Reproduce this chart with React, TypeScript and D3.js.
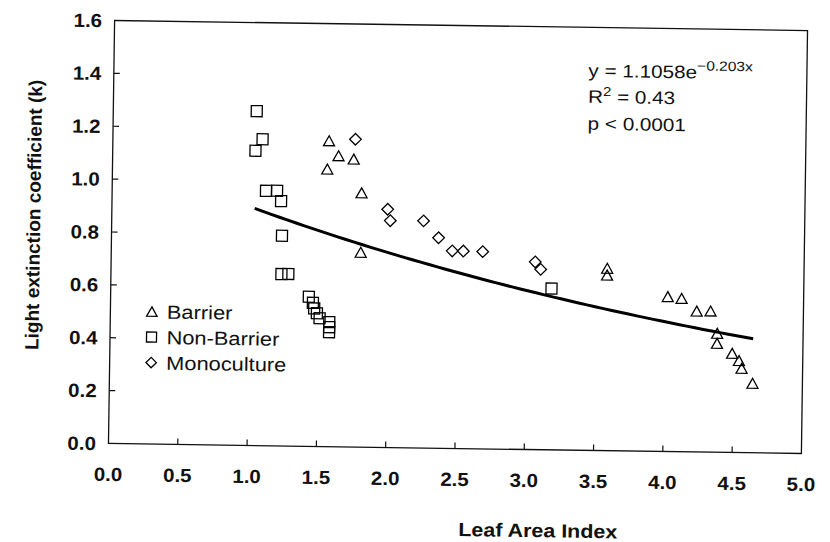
import React from "react";
import * as d3 from "d3";

// Leaf Area Index (x) and light extinction coefficient k (y) for each planting type
const barrierLAI = [1.56, 1.63, 1.74, 1.55, 1.8, 1.8, 3.58, 3.58, 4.02, 4.12, 4.23, 4.33, 4.38, 4.38, 4.49, 4.54, 4.56, 4.64];
const barrierK = [1.157, 1.101, 1.089, 1.05, 0.962, 0.737, 0.69, 0.664, 0.586, 0.58, 0.533, 0.534, 0.45, 0.412, 0.375, 0.348, 0.319, 0.263];

const nonBarrierLAI = [1.035, 1.08, 1.03, 1.11, 1.19, 1.22, 1.23, 1.23, 1.28, 1.43, 1.46, 1.47, 1.49, 1.51, 1.58, 1.58, 1.58, 3.18];
const nonBarrierK = [1.265, 1.159, 1.115, 0.964, 0.965, 0.926, 0.795, 0.65, 0.651, 0.566, 0.543, 0.522, 0.504, 0.485, 0.471, 0.452, 0.433, 0.61];

const monoLAI = [1.75, 1.99, 2.01, 2.25, 2.36, 2.46, 2.54, 2.68, 3.06, 3.1];
const monoK = [1.164, 0.901, 0.858, 0.859, 0.796, 0.747, 0.747, 0.746, 0.71, 0.682];

// Exponential fit k = a * exp(b * LAI), drawn over the observed LAI range
const fitA = 1.1058;
const fitB = -0.203;
const fitRange = [1.03, 4.64];

const xTicks = [0, 0.5, 1, 1.5, 2, 2.5, 3, 3.5, 4, 4.5, 5];
const yTicks = [0, 0.2, 0.4, 0.6, 0.8, 1.0, 1.2, 1.4, 1.6];

const legendLabels = ["Barrier", "Non-Barrier", "Monoculture"];

const W = 830;
const H = 542;
const FRAME = { left: 111.5, right: 804.5, top: 25.5, bottom: 448.5 };
const FONT = "'Liberation Sans', Arial, Helvetica, sans-serif";

const x = d3.scaleLinear().domain([0, 5]).range([FRAME.left, FRAME.right]);
const y = d3.scaleLinear().domain([0, 1.6]).range([FRAME.bottom, FRAME.top]);

// Horizontally widened text (the figure's type runs wide)
function WText({
  x: tx,
  y: ty,
  sx = 1.13,
  children,
  ...rest
}: {
  x: number;
  y: number;
  sx?: number;
  children: React.ReactNode;
  [k: string]: any;
}) {
  return (
    <text transform={`translate(${tx} ${ty}) scale(${sx} 1)`} fill="#111" {...rest}>
      {children}
    </text>
  );
}

function Triangle({ cx, cy, s = 11 }: { cx: number; cy: number; s?: number }) {
  const h = s * 0.9;
  const d = `M${cx},${cy - h / 2}L${cx + s / 2},${cy + h / 2}L${cx - s / 2},${cy + h / 2}Z`;
  return <path d={d} fill="none" stroke="#000" strokeWidth={1.3} />;
}

function Square({ cx, cy, s = 11 }: { cx: number; cy: number; s?: number }) {
  return <rect x={cx - s / 2} y={cy - s / 2} width={s} height={s} fill="none" stroke="#000" strokeWidth={1.3} />;
}

function Diamond({ cx, cy, r = 5.8 }: { cx: number; cy: number; r?: number }) {
  const d = `M${cx},${cy - r}L${cx + r},${cy}L${cx},${cy + r}L${cx - r},${cy}Z`;
  return <path d={d} fill="none" stroke="#000" strokeWidth={1.3} />;
}

export default function App() {
  const fitPts = d3.range(0, 61).map((i) => {
    const lai = fitRange[0] + ((fitRange[1] - fitRange[0]) * i) / 60;
    return [lai, fitA * Math.exp(fitB * lai)] as [number, number];
  });
  const fitPath = d3
    .line<[number, number]>()
    .x((d) => x(d[0]))
    .y((d) => y(d[1]))(fitPts) as string;

  const legendY = [316, 341.5, 367];
  const legendMarkX = 153;
  const legendTextX = 168;

  return (
    <svg
      width={W}
      height={H}
      viewBox={`0 0 ${W} ${H}`}
      style={{ position: "absolute", left: 0, top: 0, background: "#fff" }}
      fontFamily={FONT}
    >
      <rect x={0} y={0} width={W} height={H} fill="#fff" />
      <g transform="rotate(0.83 458 237)">
        {/* plot frame */}
        <rect
          x={FRAME.left}
          y={FRAME.top}
          width={FRAME.right - FRAME.left}
          height={FRAME.bottom - FRAME.top}
          fill="none"
          stroke="#111"
          strokeWidth={1.3}
        />

        {/* x ticks and labels */}
        {xTicks.map((t) => (
          <g key={`x${t}`}>
            {t > 0 && t < 5 && (
              <line x1={x(t)} x2={x(t)} y1={FRAME.bottom} y2={FRAME.bottom - 6} stroke="#111" strokeWidth={1.2} />
            )}
            <WText x={x(t)} y={486} sx={1.08} textAnchor="middle" fontSize={19} fontWeight="bold">
              {t.toFixed(1)}
            </WText>
          </g>
        ))}

        {/* y ticks and labels */}
        {yTicks.map((t) => (
          <g key={`y${t}`}>
            {t > 0 && t < 1.6 && (
              <line x1={FRAME.left} x2={FRAME.left + 6} y1={y(t)} y2={y(t)} stroke="#111" strokeWidth={1.2} />
            )}
            <WText x={99} y={y(t)} sx={1.08} dy="0.36em" textAnchor="end" fontSize={19} fontWeight="bold">
              {t.toFixed(1)}
            </WText>
          </g>
        ))}

        {/* axis titles */}
        <WText x={542} y={536} sx={1.13} textAnchor="middle" fontSize={19} fontWeight="bold">
          Leaf Area Index
        </WText>
        <text
          transform="translate(40 221) rotate(-90)"
          textAnchor="middle"
          fontSize={19}
          fontWeight="bold"
          fill="#111"
        >
          Light extinction coefficient (k)
        </text>

        {/* fitted curve */}
        <path d={fitPath} fill="none" stroke="#000" strokeWidth={3} strokeLinejoin="round" />

        {/* data points */}
        {barrierLAI.map((v, i) => (
          <Triangle key={`b${i}`} cx={x(v)} cy={y(barrierK[i])} />
        ))}
        {nonBarrierLAI.map((v, i) => (
          <Square key={`n${i}`} cx={x(v)} cy={y(nonBarrierK[i])} />
        ))}
        {monoLAI.map((v, i) => (
          <Diamond key={`m${i}`} cx={x(v)} cy={y(monoK[i])} />
        ))}

        {/* legend */}
        <Triangle cx={legendMarkX} cy={legendY[0]} s={10.5} />
        <Square cx={legendMarkX} cy={legendY[1]} s={10} />
        <Diamond cx={legendMarkX} cy={legendY[2]} r={5.2} />
        {legendLabels.map((l, i) => (
          <WText key={l} x={legendTextX} y={legendY[i]} sx={1.15} dy="0.36em" fontSize={19}>
            {l}
          </WText>
        ))}

        {/* fit statistics */}
        <WText x={586} y={75} sx={1.15} fontSize={18}>
          y = 1.1058e
          <tspan dy={-8} fontSize={13.5}>
            −0.203x
          </tspan>
        </WText>
        <WText x={586} y={101} sx={1.15} fontSize={18}>
          R
          <tspan dy={-7} fontSize={13}>
            2
          </tspan>
          <tspan dy={7}> = 0.43</tspan>
        </WText>
        <WText x={586} y={128} sx={1.15} fontSize={18}>
          p &lt; 0.0001
        </WText>
      </g>
    </svg>
  );
}
